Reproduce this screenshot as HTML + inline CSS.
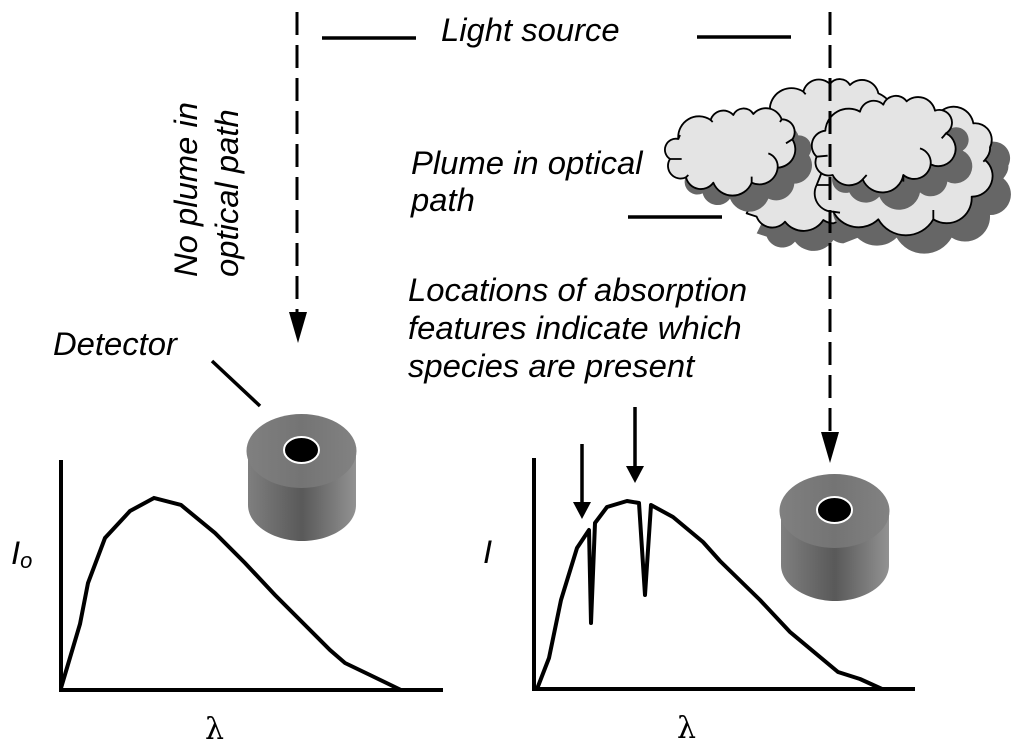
<!DOCTYPE html>
<html><head><meta charset="utf-8"><style>
html,body{margin:0;padding:0;background:#fff}
svg{display:block}
text{font-family:"Liberation Sans",sans-serif;font-style:italic;font-size:32.800px;fill:#000}
.c{stroke:#000;stroke-width:5.500;fill:#e4e4e4;stroke-linejoin:round}
.s{fill:#666}
.i{stroke:#000;stroke-width:5.500;fill:none}
.k{stroke:#000;fill:none;stroke-width:4}
</style></head><body>
<svg width="1024" height="751" viewBox="0 0 1024 751" xmlns="http://www.w3.org/2000/svg" xmlns:xlink="http://www.w3.org/1999/xlink">
<defs>
<linearGradient id="b" x1="0" x2="1" y1="0" y2="0"><stop offset="0" stop-color="#7f7f7f"/><stop offset=".5" stop-color="#595959"/><stop offset="1" stop-color="#929292"/></linearGradient>
<linearGradient id="t" x1="0" x2="1" y1="0" y2="0"><stop offset="0" stop-color="#808080"/><stop offset=".5" stop-color="#747474"/><stop offset="1" stop-color="#828282"/></linearGradient>
<g id="det">
<path d="M248,450V505C248,526 275,541 302,541C330,541 356,526 356,505V450Z" fill="url(#b)"/>
<ellipse cx="301.500" cy="451" rx="55" ry="37" fill="url(#t)"/>
<ellipse cx="301.500" cy="450" rx="17.500" ry="13" fill="#000" stroke="#fff" stroke-width="2"/>
</g>
<path id="back" d="M390,140A65,65 0 0 1 490,95A48,48 0 0 1 570,72A36,36 0 0 1 630,75A50,50 0 0 1 715,100Q750,115 760,150L760,420L580,490Q565,490 550,480A70,70 0 0 1 435,485A50,50 0 0 1 350,470L320,460L400,300Z"/>
<path id="big" d="M905,152A60,60 0 0 1 1000,190A50,50 0 0 1 1050,262Q1052,280 1035,300A62,62 0 0 1 995,410A75,75 0 0 1 880,478A95,95 0 0 1 715,478A85,85 0 0 1 580,455A55,55 0 0 1 530,375L600,200Z"/>
<path id="left" d="M115,237A62,62 0 0 1 212,180A40,40 0 0 1 280,165A34,34 0 0 1 340,162A50,50 0 0 1 425,178A38,38 0 0 1 457,238A55,55 0 0 1 413,323A55,55 0 0 1 335,368A62,62 0 0 1 220,368A46,46 0 0 1 138,352A38,38 0 0 1 90,297A33,33 0 0 1 115,237Z"/>
<path id="front" d="M556,212A70,70 0 0 1 660,155A42,42 0 0 1 730,134A40,40 0 0 1 800,124A52,52 0 0 1 885,152A38,38 0 0 1 918,220A48,48 0 0 1 872,313A50,50 0 0 1 790,345A64,64 0 0 1 668,358A55,55 0 0 1 578,345A40,40 0 0 1 530,290A45,45 0 0 1 556,212Z"/>
</defs>

<!-- clouds -->
<g transform="translate(640 60) scale(.33333)">
<use xlink:href="#back" class="s" x="30" y="60"/>
<use xlink:href="#back" class="c"/>
<use xlink:href="#big" class="s" x="55" y="55"/>
<use xlink:href="#big" class="c"/>
<use xlink:href="#left" class="s" x="50" y="48"/>
<use xlink:href="#left" class="c"/>
<use xlink:href="#front" class="s" x="50" y="52"/>
<use xlink:href="#front" class="c"/>
<path class="i" d="M385,280A42,42 0 0 1 413,323M840,265A45,45 0 0 1 872,313M905,235Q912,228 918,220M1030,305L1035,300M790,345V365M668,358L680,345M580,455L600,458M880,478V450M530,290L563,287M530,375H570M438,250L457,238M115,237L120,225M90,297H125M138,352L145,345M335,368V350M212,180L218,186M425,178L420,186M490,95L497,103"/>
</g>

<!-- dashed beams -->
<path d="M297,12V314" stroke="#000" stroke-width="3" stroke-dasharray="23 10" fill="none"/>
<path d="M830,12V434" stroke="#000" stroke-width="3" stroke-dasharray="23 10" fill="none"/>
<polygon points="289,312 307,312 298,343" fill="#000"/>
<polygon points="821,432 839,432 830,463" fill="#000"/>

<!-- leader lines -->
<g stroke="#000" stroke-width="3.500" fill="none">
<path d="M322,38H416M697,37H791M628,217H722M212,361L260,406"/>
</g>

<use xlink:href="#det"/>
<use xlink:href="#det" x="533" y="60"/>

<!-- graphs -->
<path class="k" d="M61,460V690H443"/>
<path class="k" d="M61,688L80,624L88,583L105,538L130,511L154,498L181,505L215,533L245,563L275,595L305,625L330,650L345,663L370,675L401,690"/>
<path class="k" d="M534,458V689H915"/>
<path class="k" stroke-linejoin="round" d="M537,689L549,658L561,600L577,548L589,530L591,623L595,523L607,507L627,501L639,503L645,595L651,505L673,517L703,542L720,561L760,600L790,632L838,672L860,679L882,689"/>

<!-- feature arrows -->
<path d="M582,444V504M635,407V468" stroke="#000" stroke-width="3.500" fill="none"/>
<polygon points="573,502 591,502 582,519" fill="#000"/>
<polygon points="626,466 644,466 635,483" fill="#000"/>

<!-- labels -->
<text x="441" y="41">Light source</text>
<text x="411" y="174">Plume in optical</text>
<text x="411" y="211">path</text>
<text x="408" y="301">Locations of absorption</text>
<text x="408" y="339">features indicate which</text>
<text x="408" y="377">species are present</text>
<text x="53" y="355">Detector</text>
<text transform="translate(197 277) rotate(-90)">No plume in</text>
<text transform="translate(238 277) rotate(-90)">optical path</text>
<text x="11" y="564">I<tspan font-size="22" dy="4">o</tspan></text>
<text x="483" y="563">I</text>
<text x="205" y="739" style="font-family:'DejaVu Serif','Liberation Serif',serif;font-style:normal;font-size:30px">λ</text>
<text x="677" y="738" style="font-family:'DejaVu Serif','Liberation Serif',serif;font-style:normal;font-size:30px">λ</text>
</svg>
</body></html>
